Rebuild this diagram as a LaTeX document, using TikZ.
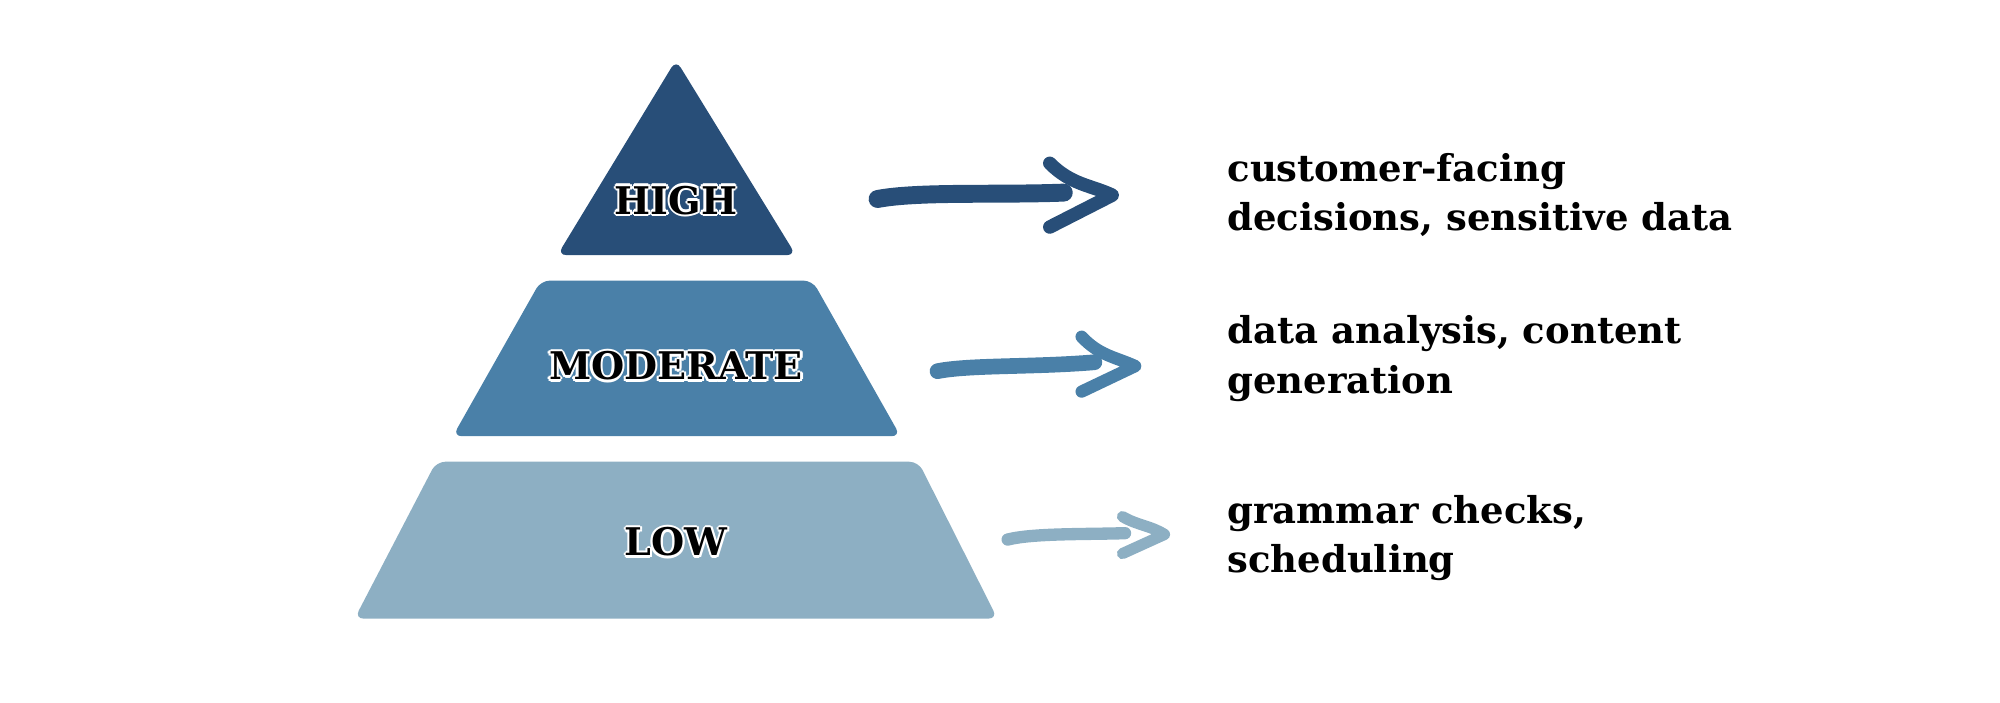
\documentclass[tikz,border=0pt]{standalone}
\usepackage{fontspec}
\setmainfont{DejaVu Serif}
\definecolor{cHigh}{HTML}{284E78}
\definecolor{cMod}{HTML}{4A80A8}
\definecolor{cLow}{HTML}{8DAFC3}
\newcommand{\sh}[3]{\rlap{\hspace*{#1}\raisebox{#2}{\color{white}#3}}}
\newcommand{\outl}[1]{%
  \sh{-1pt}{0pt}{#1}\sh{1pt}{0pt}{#1}\sh{0pt}{1pt}{#1}\sh{0pt}{-1pt}{#1}%
  \sh{-0.7pt}{0.7pt}{#1}\sh{0.7pt}{0.7pt}{#1}\sh{-0.7pt}{-0.7pt}{#1}\sh{0.7pt}{-0.7pt}{#1}%
  #1}
\begin{document}
\begin{tikzpicture}[x=0.02cm,y=-0.02cm,
  tier/.style={rounded corners=4pt},
  lab/.style={font=\fontsize{17}{20}\selectfont\bfseries},
  desc/.style={font=\fontsize{16.5}{22}\selectfont\bfseries,align=left,anchor=west,inner sep=0},
  shaft/.style={line cap=round,line join=round},
  head/.style={line cap=round,line join=round}]
\useasboundingbox (0,0) rectangle (1568,551);
% tiers
\fill[cHigh,tier] (437,200) -- (530,47) -- (624,200) -- cycle;
\fill[cMod,tier] (355,342) -- (424,220) -- (637,220) -- (706,342) -- cycle;
\fill[cLow,tier] (278,485) -- (342,362) -- (720,362) -- (782,485) -- cycle;
\node[lab] (high) at (530,157) {\outl{HIGH}};
\node[lab] (mod) at (530,287) {\outl{MODERATE}};
\node[lab] (low) at (530,425) {\outl{LOW}};
% descriptions
\node[desc] (dh) at (962,153) {customer-facing\\decisions, sensitive data};
\node[desc] (dm) at (962,281) {data analysis, content\\generation};
\node[desc] (dl) at (962,422) {grammar checks,\\scheduling};
% arrows
\coordinate (h1) at (688,156); \coordinate (h2) at (834,151);
\coordinate (ht) at (872,153); \coordinate (ha) at (823,128); \coordinate (hb) at (823,178);
\draw[cHigh,shaft,line width=8pt] (h1) .. controls (720,150) and (780,153) .. (h2);
\draw[cHigh,head,line width=6pt] (ha) .. controls (840,145) and (855,145) .. (ht) -- (hb);
\coordinate (m1) at (735,291); \coordinate (m2) at (858,284);
\coordinate (mt) at (890,287); \coordinate (ma) at (848,264); \coordinate (mb) at (848,307);
\draw[cMod,shaft,line width=7pt] (m1) .. controls (760,286) and (810,288) .. (m2);
\draw[cMod,head,line width=5.5pt] (ma) .. controls (862,279) and (875,280) .. (mt) -- (mb);
\coordinate (l1) at (790,423); \coordinate (l2) at (882,418);
\coordinate (lt) at (913,419); \coordinate (la) at (880,405); \coordinate (lb) at (880,434);
\draw[cLow,shaft,line width=5.5pt] (l1) .. controls (810,418) and (850,419) .. (l2);
\draw[cLow,head,line width=5pt] (la) .. controls (892,412) and (902,412) .. (lt) -- (lb);
\end{tikzpicture}
\end{document}
